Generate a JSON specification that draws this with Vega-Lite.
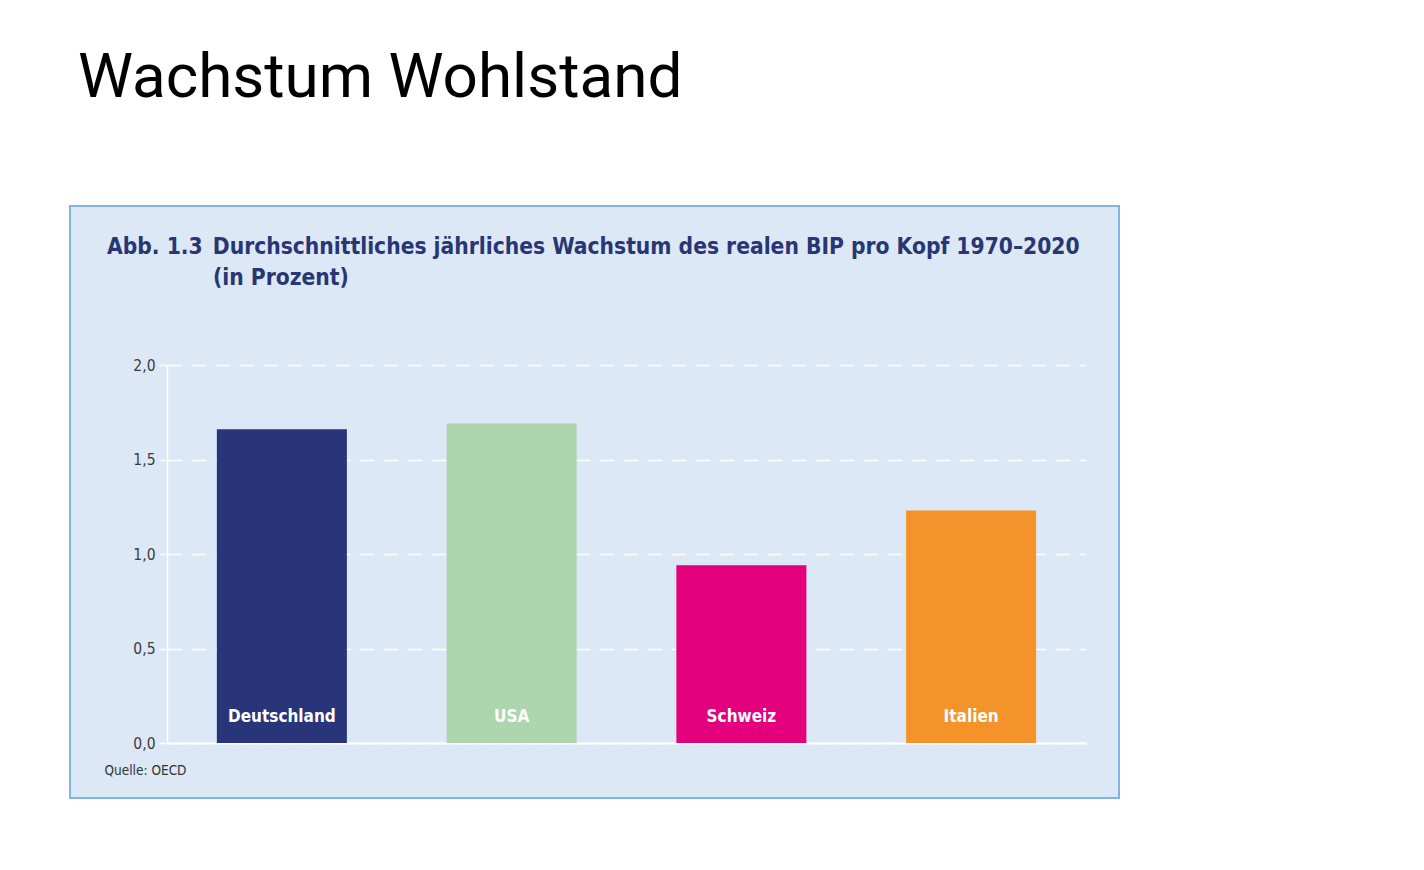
{
  "$schema": "https://vega.github.io/schema/vega-lite/v6.json",
  "background": "white",
  "padding": {"left": 69, "top": 47, "right": 10, "bottom": 10},
  "title": {
    "text": "Wachstum Wohlstand",
    "anchor": "start",
    "font": "Roboto",
    "fontSize": 62,
    "fontWeight": 400,
    "color": "black",
    "dx": 9,
    "offset": 95
  },
  "vconcat": [
    {
      "width": 1049,
      "height": 592,
      "view": {"fill": "#dce8f5", "stroke": "#7fb5e3", "strokeWidth": 2},
      "title": {
        "text": [
          "Abb. 1.3\u2002Durchschnittliches jährliches Wachstum des realen BIP pro Kopf 1970–2020",
          "\u200b\u00a0\u00a0\u00a0\u00a0\u00a0\u00a0\u00a0\u00a0\u00a0\u00a0\u00a0\u00a0\u00a0\u00a0\u00a0(in Prozent)"
        ],
        "anchor": "start",
        "frame": "group",
        "dx": 37,
        "offset": -84,
        "font": "DejaVu Sans Condensed, Open Sans",
        "fontSize": 22.6,
        "fontWeight": "bold",
        "lineHeight": 31,
        "color": "#283673"
      },
      "data": {
        "values": [
          {"land": "Deutschland", "wachstum": 1.66},
          {"land": "USA", "wachstum": 1.69},
          {"land": "Schweiz", "wachstum": 0.94},
          {"land": "Italien", "wachstum": 1.23}
        ]
      },
      "encoding": {
        "x": {
          "field": "land",
          "type": "nominal",
          "sort": null,
          "scale": {"range": [97, 1016], "paddingInner": 0.434, "paddingOuter": 0.217},
          "axis": {
            "labels": false,
            "ticks": false,
            "domainColor": "white",
            "domainWidth": 2,
            "offset": -55,
            "title": "Quelle: OECD",
            "titleX": 34,
            "titleY": 31,
            "titleAlign": "left",
            "titleBaseline": "alphabetic",
            "titleFont": "DejaVu Sans Condensed, Open Sans",
            "titleFontSize": 13.5,
            "titleFontWeight": "normal",
            "titleColor": "#333333"
          }
        }
      },
      "layer": [
        {
          "mark": {"type": "bar"},
          "encoding": {
            "y": {
              "field": "wachstum",
              "type": "quantitative",
              "scale": {"domain": [0, 2], "range": [537, 159], "nice": false, "zero": true},
              "axis": {
                "title": null,
                "offset": -97,
                "values": [0, 0.5, 1, 1.5, 2],
                "grid": true,
                "gridColor": "white",
                "gridDash": [15, 9],
                "gridWidth": 1.5,
                "domainColor": "white",
                "domainWidth": 1.5,
                "tickColor": "white",
                "tickSize": 8,
                "tickWidth": 1.5,
                "labelPadding": 4,
                "labelExpr": "replace(format(datum.value, '.1f'), '.', ',')",
                "labelFont": "DejaVu Sans Condensed, Open Sans",
                "labelFontSize": 15.5,
                "labelColor": "#3c3c3c"
              }
            },
            "color": {
              "field": "land",
              "type": "nominal",
              "scale": {
                "domain": ["Deutschland", "USA", "Schweiz", "Italien"],
                "range": ["#283579", "#add5ae", "#e4007d", "#f39329"]
              },
              "legend": null
            }
          }
        },
        {
          "mark": {
            "type": "text",
            "color": "white",
            "font": "DejaVu Sans Condensed, Open Sans",
            "fontSize": 17,
            "fontWeight": "bold",
            "baseline": "alphabetic",
            "dy": -21
          },
          "encoding": {
            "y": {"datum": 0, "type": "quantitative"},
            "text": {"field": "land"}
          }
        }
      ]
    }
  ],
  "config": {}
}
